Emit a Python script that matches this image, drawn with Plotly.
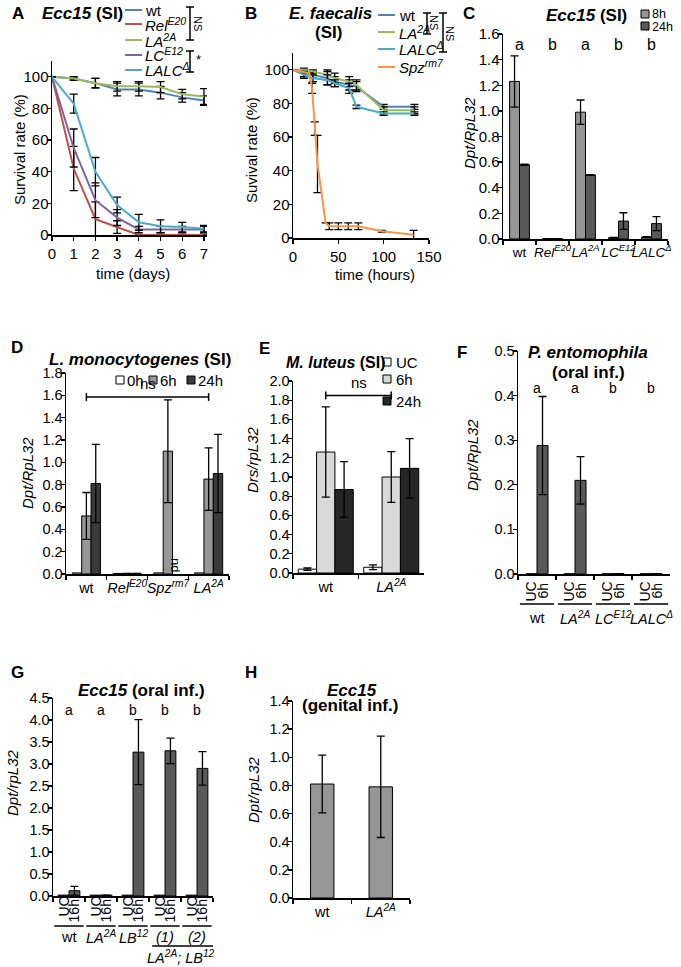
import plotly.graph_objects as go

W, H = 681, 967
FONT = "Liberation Sans, Arial, sans-serif"

# ---------------- data ----------------
# Panel A: Ecc15 survival (days)
a_days = [0, 1, 2, 3, 4, 5, 6, 7]
a_wt = [100, 99, 96, 92, 92, 90, 87, 85]
a_wt_err = [0, 1, 3, 4, 4, 4, 3, 3]
a_rel = [100, 42, 10, 5, 0, 0, 0, 0]
a_rel_err = [0, 14, 11, 4, 0.5, 0.5, 0.5, 0.5]
a_la = [100, 99, 96, 94, 94, 93.5, 89, 87.5]
a_la_err = [0, 1, 3, 3, 3, 3.5, 3, 5]
a_lc = [100, 55, 22, 11, 3.5, 3.5, 3.5, 3.5]
a_lc_err = [0, 12, 11, 5, 2, 2, 2, 2]
a_lalc = [100, 83, 40, 19, 8, 5.5, 5, 4]
a_lalc_err = [0, 6, 9, 5, 5, 4, 3, 2]

# Panel B: E. faecalis survival (hours)
b_t = [0, 12, 22, 38, 46, 62, 70, 100, 134]
b_wt = [100, 98, 97, 95, 93, 91, 90, 78, 78]
b_wt_err = [0, 2, 2, 4, 3, 3, 3, 1.5, 1.5]
b_la = [100, 100, 99, 97, 95, 93, 91, 76, 76]
b_la_err = [0, 1, 1, 3, 3, 3, 3, 2, 2]
b_lalc = [100, 97, 95, 94, 92, 89, 78, 74, 74]
b_lalc_err = [0, 2, 2, 3, 2, 3, 1, 1, 1]
b_spz_t = [0, 18, 21, 24, 27, 36, 40, 50, 61, 72, 98, 133]
b_spz = [100, 98, 89, 65, 44, 9, 7, 7, 7, 7, 4, 2]
b_spz_err = [0, 0, 3, 4, 17, 0, 2, 2, 2, 2, 0.5, 2.5]

# Panel C: Ecc15 (SI) Dpt
c_cats = ["wt", "RelE20", "LA2A", "LCE12", "LALCd"]
c_ticks = ["wt", "<i>Rel<sup>E20</sup></i>", "<i>LA<sup>2A</sup></i>",
           "<i>LC<sup>E12</sup></i>", "<i>LALC<sup>Δ</sup></i>"]
c_8h = [1.23, 0.003, 0.99, 0.01, 0.015]
c_8h_err = [0.2, 0, 0.095, 0.003, 0.003]
c_24h = [0.58, 0.003, 0.50, 0.14, 0.12]
c_24h_err = [0.005, 0, 0.003, 0.065, 0.055]
c_letters = ["a", "b", "a", "b", "b"]

# Panel D: L. monocytogenes
d_cats = ["wt", "RelE20", "Spzrm7", "LA2A"]
d_ticks = ["wt", "<i>Rel<sup>E20</sup></i>", "<i>Spz<sup>rm7</sup></i>", "<i>LA<sup>2A</sup></i>"]
d_0h = [0.01, 0.005, 0.01, 0.01]
d_6h = [0.52, 0.005, 1.10, 0.85]
d_6h_err = [0.21, 0, 0.46, 0.28]
d_24h = [0.81, 0.005, None, 0.90]
d_24h_err = [0.35, 0, 0, 0.35]

# Panel E: M. luteus
e_cats = ["wt", "LA2A"]
e_ticks = ["wt", "<i>LA<sup>2A</sup></i>"]
e_uc = [0.04, 0.06]
e_uc_err = [0.012, 0.025]
e_6h = [1.26, 1.00]
e_6h_err = [0.47, 0.265]
e_24h = [0.87, 1.09]
e_24h_err = [0.29, 0.31]

# Panel F: P. entomophila oral
f_cats = ["wt", "LA2A", "LCE12", "LALCd"]
f_ticks = ["wt", "<i>LA<sup>2A</sup></i>", "<i>LC<sup>E12</sup></i>", "<i>LALC<sup>Δ</sup></i>"]
f_uc = [0.0005, 0.0005, 0.0005, 0.0005]
f_6h = [0.288, 0.21, 0.001, 0.001]
f_6h_err = [0.11, 0.053, 0, 0]
f_letters = ["a", "a", "b", "b"]

# Panel G: Ecc15 oral
g_cats = ["wt", "LA2A", "LB12", "(1)", "(2)"]
g_ticks = ["wt", "<i>LA<sup>2A</sup></i>", "<i>LB<sup>12</sup></i>", "<i>(1)</i>", "<i>(2)</i>"]
g_uc = [0.02, 0.02, 0.02, 0.02, 0.02]
g_16h = [0.12, 0.02, 3.27, 3.30, 2.90]
g_16h_err = [0.10, 0, 0.74, 0.29, 0.38]
g_letters = ["a", "a", "b", "b", "b"]

# Panel H: Ecc15 genital
h_cats = ["wt", "LA2A"]
h_ticks = ["wt", "<i>LA<sup>2A</sup></i>"]
h_vals = [0.81, 0.79]
h_err = [0.205, 0.36]

# colours
C_WT, C_REL, C_LA, C_LC, C_LALC, C_SPZ = "#4F81BD", "#C0504D", "#9BBB59", "#8064A2", "#4BACC6", "#F79646"

# ---------------- helpers ----------------
def dx(a, b):
    return [a / W, b / W]

def dy(top, bottom):
    return [1 - bottom / H, 1 - top / H]

def P(x, y):
    return x / W, 1 - y / H

annotations = []
shapes = []

def ann(text, x, y, size=15, xanchor="center", yanchor="middle", angle=0):
    px, py = P(x, y)
    annotations.append(dict(text=text, x=px, y=py, xref="paper", yref="paper", showarrow=False,
                            xanchor=xanchor, yanchor=yanchor, textangle=angle,
                            font=dict(size=size, color="black", family=FONT)))

def dann(text, xref, yref, x, y, size=15, angle=0, xshift=0, yanchor="middle"):
    annotations.append(dict(text=text, x=x, y=y, xref=xref, yref=yref, showarrow=False,
                            xanchor="center", yanchor=yanchor, textangle=angle, xshift=xshift,
                            font=dict(size=size, color="black", family=FONT)))

def pline(x0, y0, x1, y1, color="black", width=1.5):
    a, b = P(x0, y0)
    c, d = P(x1, y1)
    shapes.append(dict(type="line", xref="paper", yref="paper", x0=a, y0=b, x1=c, y1=d,
                       line=dict(color=color, width=width)))

def prect(cx, cy, s, fill):
    a, b = P(cx - s / 2, cy + s / 2)
    c, d = P(cx + s / 2, cy - s / 2)
    shapes.append(dict(type="rect", xref="paper", yref="paper", x0=a, y0=b, x1=c, y1=d,
                       fillcolor=fill, line=dict(color="black", width=1)))

def bracket_v(x, y0, y1, cap=4):
    pline(x, y0, x, y1)
    pline(x - cap, y0, x + cap, y0)
    pline(x - cap, y1, x + cap, y1)

fig = go.Figure()

def err(arr, w=4):
    return dict(type="data", array=arr, visible=True, color="black", thickness=1.3, width=w)

# ---------------- Panel A ----------------
for vals, e, col in [(a_wt, a_wt_err, C_WT), (a_rel, a_rel_err, C_REL), (a_la, a_la_err, C_LA),
                     (a_lc, a_lc_err, C_LC), (a_lalc, a_lalc_err, C_LALC)]:
    fig.add_trace(go.Scatter(x=a_days, y=vals, error_y=err(e), mode="lines",
                             line=dict(color=col, width=2), xaxis="x", yaxis="y", showlegend=False))

# ---------------- Panel B ----------------
for t, vals, e, col in [(b_t, b_wt, b_wt_err, C_WT), (b_t, b_la, b_la_err, C_LA),
                        (b_t, b_lalc, b_lalc_err, C_LALC), (b_spz_t, b_spz, b_spz_err, C_SPZ)]:
    fig.add_trace(go.Scatter(x=t, y=vals, error_y=err(e), mode="lines",
                             line=dict(color=col, width=2), xaxis="x2", yaxis="y2", showlegend=False))

# ---------------- bar helper ----------------
def bars(cats, vals, errs, color, ax, width, offset, ew=4):
    fig.add_trace(go.Bar(x=cats, y=vals, width=width, offset=offset,
                         marker=dict(color=color, line=dict(color="black", width=1)),
                         error_y=err(errs, ew) if errs is not None else None,
                         xaxis="x" + ax, yaxis="y" + ax, showlegend=False))

# C
bars(c_cats, c_8h, c_8h_err, "#969696", "3", 0.3, -0.3)
bars(c_cats, c_24h, c_24h_err, "#595959", "3", 0.3, 0.0)
# D
bars(d_cats, d_0h, None, "white", "4", 0.23, -0.345)
bars(d_cats, d_6h, d_6h_err, "#979797", "4", 0.23, -0.115)
bars(d_cats, d_24h, d_24h_err, "#3a3a3a", "4", 0.23, 0.115)
# E
bars(e_cats, e_uc, e_uc_err, "white", "5", 0.28, -0.42)
bars(e_cats, e_6h, e_6h_err, "#d9d9d9", "5", 0.28, -0.14)
bars(e_cats, e_24h, e_24h_err, "#262626", "5", 0.28, 0.14)
# F
bars(f_cats, f_uc, None, "#595959", "6", 0.29, -0.29)
bars(f_cats, f_6h, f_6h_err, "#595959", "6", 0.29, 0.0)
# G
bars(g_cats, g_uc, None, "#595959", "7", 0.34, -0.34)
bars(g_cats, g_16h, g_16h_err, "#595959", "7", 0.34, 0.0)
# H
bars(h_cats, h_vals, h_err, "#969696", "8", 0.4, -0.2)

# ---------------- axes ----------------
base = dict(showline=True, linecolor="black", linewidth=1.5, ticks="outside", ticklen=4,
            tickwidth=1.3, tickcolor="black", showgrid=False, zeroline=False, fixedrange=True,
            automargin=False, tickangle=0,
            tickfont=dict(size=15, color="black", family=FONT))

def xaxis(domain, anchor, **kw):
    d = dict(base); d.update(domain=domain, anchor=anchor); d.update(kw); return d

def yaxis(domain, anchor, **kw):
    d = dict(base); d.update(domain=domain, anchor=anchor, ticklabelstandoff=-5); d.update(kw); return d

f14 = dict(size=14.5, color="black", family=FONT)
f13 = dict(size=13.5, color="black", family=FONT)

layout = dict(
    width=W, height=H, margin=dict(l=0, r=0, t=0, b=0, pad=0), autosize=False,
    paper_bgcolor="white", plot_bgcolor="white", barmode="overlay",
    font=dict(family=FONT, color="black"),
    xaxis=xaxis(dx(52, 207), "y", range=[0, 7.14], tickmode="array", tickvals=a_days),
    yaxis=yaxis(dy(61, 235), "x", range=[0, 110], dtick=20),
    xaxis2=xaxis(dx(293, 429), "y2", range=[0, 150], dtick=50),
    yaxis2=yaxis(dy(53, 238), "x2", range=[0, 110], dtick=20),
    xaxis3=xaxis(dx(503, 668), "y3", type="category", tickson="boundaries", tickvals=c_cats, ticktext=c_ticks, range=[-0.5, 4.5], tickfont=f13),
    yaxis3=yaxis(dy(34, 239), "x3", range=[0, 1.6], dtick=0.2, tickformat=".1f"),
    xaxis4=xaxis(dx(66, 229), "y4", type="category", tickson="boundaries", tickvals=d_cats, ticktext=d_ticks, range=[-0.5, 3.5], tickfont=f14),
    yaxis4=yaxis(dy(373, 574), "x4", range=[0, 1.8], dtick=0.2, tickformat=".1f", tickfont=f14),
    xaxis5=xaxis(dx(293, 424), "y5", type="category", tickson="boundaries", tickvals=e_cats, ticktext=e_ticks, range=[-0.5, 1.5], tickfont=f14),
    yaxis5=yaxis(dy(381, 573), "x5", range=[0, 2.0], dtick=0.2, tickformat=".1f", tickfont=f14),
    xaxis6=xaxis(dx(518, 670), "y6", type="category", tickson="boundaries", showticklabels=False, range=[-0.5, 3.5]),
    yaxis6=yaxis(dy(351, 574), "x6", range=[0, 0.5], dtick=0.1, tickformat=".1f", tickfont=f14),
    xaxis7=xaxis(dx(53, 213), "y7", type="category", tickson="boundaries", showticklabels=False, range=[-0.5, 4.5]),
    yaxis7=yaxis(dy(698, 896), "x7", range=[0, 4.5], dtick=0.5, tickformat=".1f", tickfont=f14),
    xaxis8=xaxis(dx(293, 410), "y8", type="category", tickson="boundaries", tickvals=h_cats, ticktext=h_ticks, range=[-0.5, 1.5], tickfont=f14),
    yaxis8=yaxis(dy(701, 898), "x8", range=[0, 1.4], dtick=0.2, tickformat=".1f", tickfont=f14),
)

# ---------------- text: panel A ----------------
ann("<b>A</b>", 18, 13, 17)
ann("<b><i>Ecc15</i> (SI)</b>", 82, 13, 17)
ann("Survival rate (%)", 20, 150, 15, angle=-90)
ann("time (days)", 133, 274, 15)
a_leg = [("wt", C_WT, 10), ("<i>Rel<sup>E20</sup></i>", C_REL, 24), ("<i>LA<sup>2A</sup></i>", C_LA, 40),
         ("<i>LC<sup>E12</sup></i>", C_LC, 55), ("<i>LALC<sup>Δ</sup></i>", C_LALC, 70)]
for txt, col, yy in a_leg:
    pline(125, yy, 142, yy, color=col, width=2)
    ann(txt, 143, yy, 15, xanchor="left")
bracket_v(190, 7, 40)
ann("NS", 198, 23, 11, angle=90)
bracket_v(190, 51, 72)
ann("*", 198, 60, 13)

# ---------------- panel B ----------------
ann("<b>B</b>", 251, 13, 17)
ann("<b><i>E. faecalis</i></b>", 330, 13, 17)
ann("<b>(SI)</b>", 328, 32, 17)
ann("Suvival rate (%)", 252, 150, 15, angle=-90)
ann("time (hours)", 375, 275, 15)
b_leg = [("wt", C_WT, 15), ("<i>LA<sup>2A</sup></i>", C_LA, 32), ("<i>LALC<sup>Δ</sup></i>", C_LALC, 49),
         ("<i>Spz<sup>rm7</sup></i>", C_SPZ, 67)]
for txt, col, yy in b_leg:
    pline(378, yy, 395, yy, color=col, width=2)
    ann(txt, 397, yy, 15, xanchor="left")
bracket_v(427, 13, 34, cap=4)
ann("NS", 434, 23, 11, angle=90)
bracket_v(443, 13, 52, cap=4)
ann("NS", 450, 33, 11, angle=90)

# ---------------- panel C ----------------
ann("<b>C</b>", 469, 13, 17)
ann("<b><i>Ecc15</i> (SI)</b>", 586, 15, 17)
ann("<i>Dpt/RpL32</i>", 470, 133, 15, angle=-90)
prect(645, 14, 8, "#969696")
ann("8h", 650, 14, 12.5, xanchor="left")
prect(645, 26, 8, "#595959")
ann("24h", 650, 27, 12.5, xanchor="left")
for c, l in zip(c_cats, c_letters):
    dann(l, "x3", "y3", c, 1.52, 16)

# ---------------- panel D ----------------
ann("<b>D</b>", 17, 347, 17)
ann("<b><i>L. monocytogenes</i> (SI)</b>", 140, 359, 17)
ann("<i>Dpt/RpL32</i>", 27, 473, 15, angle=-90)
for cx, fill, txt in [(120, "white", "0h"), (153, "#979797", "6h"), (191, "#3a3a3a", "24h")]:
    prect(cx, 380, 8, fill)
    ann(txt, cx + 5, 380, 15, xanchor="left")
for x0, y0, x1, y1 in [(0, 1.585, 3, 1.585), (0, 1.55, 0, 1.62), (3, 1.55, 3, 1.62)]:
    shapes.append(dict(type="line", xref="x4", yref="y4", x0=x0, y0=y0, x1=x1, y1=y1,
                       line=dict(color="black", width=1.5)))
dann("ns", "x4", "y4", 1.5, 1.61, 15, yanchor="bottom")
dann("nd", "x4", "y4", 2.2, 0.0, 13, angle=90, yanchor="bottom")

# ---------------- panel E ----------------
ann("<b>E</b>", 264, 348, 17)
ann("<b><i>M. luteus</i> (SI)</b>", 336, 362, 16)
ann("<i>Drs/rpL32</i>", 253, 460, 15, angle=-90)
for yy, fill, txt in [(362, "white", "UC"), (379, "#d9d9d9", "6h"), (401, "#262626", "24h")]:
    prect(387, yy, 8, fill)
    ann(txt, 394, yy, 15, xanchor="left")
for x0, y0, x1, y1 in [(0, 1.85, 1, 1.85), (0, 1.81, 0, 1.89), (1, 1.81, 1, 1.89)]:
    shapes.append(dict(type="line", xref="x5", yref="y5", x0=x0, y0=y0, x1=x1, y1=y1,
                       line=dict(color="black", width=1.5)))
dann("ns", "x5", "y5", 0.5, 1.87, 15, yanchor="bottom")

# ---------------- panel F ----------------
ann("<b>F</b>", 462, 352, 17)
ann("<b><i>P. entomophila</i></b>", 588, 352, 17)
ann("<b>(oral inf.)</b>", 588, 372, 17)
ann("<i>Dpt/RpL32</i>", 473, 455, 15, angle=-90)
for i, l in enumerate(f_letters):
    dann(l, "x6", "y6", i, 0.417, 14)
for i, t in enumerate(f_ticks):
    dann("UC", "x6", "paper", i - 0.145, 1 - 591 / H, 14, angle=-90)
    dann("6h", "x6", "paper", i + 0.145, 1 - 591 / H, 14, angle=-90)
    shapes.append(dict(type="line", xref="x6", yref="paper", x0=i - 0.45, x1=i + 0.45,
                       y0=1 - 604 / H, y1=1 - 604 / H, line=dict(color="black", width=1.5)))
    dann(t, "x6", "paper", i, 1 - 618 / H, 14.5)

# ---------------- panel G ----------------
ann("<b>G</b>", 17, 672, 17)
ann("<b><i>Ecc15</i> (oral inf.)</b>", 141, 690, 17)
ann("<i>Dpt/rpL32</i>", 12, 783, 15, angle=-90)
for i, l in enumerate(g_letters):
    dann(l, "x7", "y7", i, 4.23, 14)
for i, t in enumerate(g_ticks):
    dann("UC", "x7", "paper", i - 0.17, 1 - 907 / H, 14, angle=-90)
    dann("16h", "x7", "paper", i + 0.17, 1 - 911 / H, 14, angle=-90)
    shapes.append(dict(type="line", xref="x7", yref="paper", x0=i - 0.46, x1=i + 0.46,
                       y0=1 - 926 / H, y1=1 - 926 / H, line=dict(color="black", width=1.5)))
    dann(t, "x7", "paper", i, 1 - 937 / H, 14.5)
shapes.append(dict(type="line", xref="x7", yref="paper", x0=2.6, x1=4.5,
                   y0=1 - 946 / H, y1=1 - 946 / H, line=dict(color="black", width=1.5)))
dann("<i>LA<sup>2A</sup>; LB<sup>12</sup></i>", "x7", "paper", 3.5, 1 - 957 / H, 14.5)

# ---------------- panel H ----------------
ann("<b>H</b>", 251, 672, 17)
ann("<b><i>Ecc15</i></b>", 352, 690, 17)
ann("<b>(genital inf.)</b>", 350, 705, 17)
ann("<i>Dpt/rpL32</i>", 253, 790, 15, angle=-90)

layout["annotations"] = annotations
layout["shapes"] = shapes
fig.update_layout(**layout)
fig.write_html("out.html", config={"displayModeBar": False, "staticPlot": True},
               post_script="document.body.style.margin='0px';document.body.style.padding='0px';")
